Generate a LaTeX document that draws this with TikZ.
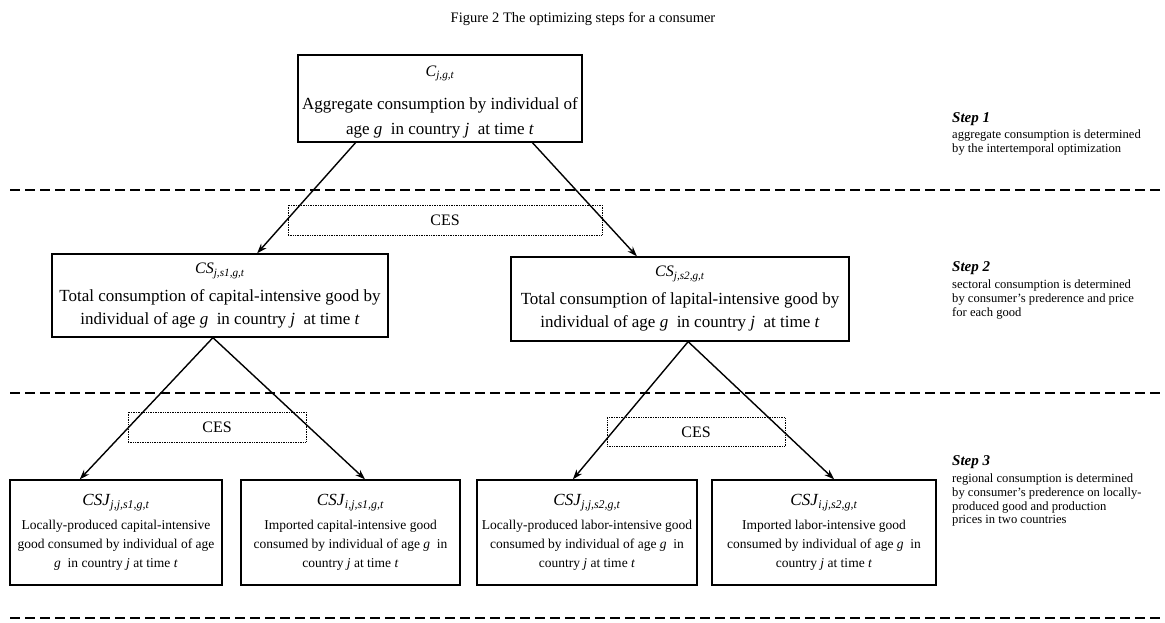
\documentclass[tikz,border=0pt]{standalone}
\usepackage{fontspec}
\setmainfont{Liberation Serif}
\usetikzlibrary{arrows.meta,calc}
\begin{document}
\begin{tikzpicture}[x=1pt,y=-1pt,
 box/.style={draw,line width=1.3pt,inner sep=0pt,align=center},
 toptxt/.style={font=\fontsize{17}{25}\selectfont},
 bigtxt/.style={font=\fontsize{17}{23}\selectfont},
 smalltxt/.style={font=\fontsize{13.5}{19}\selectfont},
 ces/.style={draw,densely dotted,line width=0.7pt,inner sep=0pt,font=\fontsize{16}{18}\selectfont},
 arr/.style={line width=1.4pt,-{Stealth[length=10pt,width=7pt]}},
 sep/.style={line width=1.3pt,dash pattern=on 10pt off 5pt},
 stepT/.style={anchor=west,inner sep=0pt,font=\fontsize{15}{17}\selectfont\bfseries\itshape},
 stepD/.style={anchor=north west,align=left,inner sep=0pt,font=\fontsize{12.6}{13.6}\selectfont}]
\useasboundingbox (0,0) rectangle (1165,622);

\node[font=\fontsize{14.5}{16}\selectfont] (title) at (583,19) {Figure 2 The optimizing steps for a consumer};

% separators
\draw[sep] (10,190) -- (1165,190);
\draw[sep] (10,393) -- (1165,393);
\draw[sep] (10,618) -- (1165,618);

% step 1
\node[box,toptxt,minimum width=284pt,minimum height=87pt] (top) at (440,98.5)
 {{\fontsize{16}{18}\selectfont\rule{0pt}{17pt}\textit{C}\textsubscript{\textit{j,g,t}}}\\[8pt]Aggregate consumption by individual of\\ age \textit{g}\enspace in country \textit{j}\enspace at time \textit{t}};

% step 2
\node[box,bigtxt,minimum width=336pt,minimum height=83pt] (cs1) at (220,295.5)
 {{\fontsize{16}{18}\selectfont\textit{CS}\textsubscript{\textit{j,s1,g,t}}}\\[5pt]Total consumption of capital-intensive good by\\ individual of age \textit{g}\enspace in country \textit{j}\enspace at time \textit{t}};
\node[box,bigtxt,minimum width=338pt,minimum height=84pt] (cs2) at (680,299)
 {{\fontsize{16}{18}\selectfont\textit{CS}\textsubscript{\textit{j,s2,g,t}}}\\[5pt]Total consumption of lapital-intensive good by\\ individual of age \textit{g}\enspace in country \textit{j}\enspace at time \textit{t}};

\node[ces,minimum width=314pt,minimum height=30pt] (ces1) at (445,220) {CES};

% step 3
\node[ces,minimum width=178pt,minimum height=30pt] (ces2) at (217,427) {CES};
\node[ces,minimum width=178pt,minimum height=29pt] (ces3) at (696,432) {CES};

\node[box,smalltxt,minimum width=212pt,minimum height=105pt] (csj1) at (116,532.5)
 {{\fontsize{17}{19}\selectfont\textit{CSJ}\textsubscript{\textit{j,j,s1,g,t}}}\\[5pt]Locally-produced capital-intensive\\ good consumed by individual of age\\ \textit{g}\enspace in country \textit{j} at time \textit{t}};
\node[box,smalltxt,minimum width=219pt,minimum height=105pt] (csj2) at (350.5,532.5)
 {{\fontsize{17}{19}\selectfont\textit{CSJ}\textsubscript{\textit{i,j,s1,g,t}}}\\[5pt]Imported capital-intensive good\\ consumed by individual of age \textit{g}\enspace in\\ country \textit{j} at time \textit{t}};
\node[box,smalltxt,minimum width=220pt,minimum height=105pt] (csj3) at (587,532.5)
 {{\fontsize{17}{19}\selectfont\textit{CSJ}\textsubscript{\textit{j,j,s2,g,t}}}\\[5pt]Locally-produced labor-intensive good\\ consumed by individual of age \textit{g}\enspace in\\ country \textit{j} at time \textit{t}};
\node[box,smalltxt,minimum width=224pt,minimum height=105pt] (csj4) at (824,532.5)
 {{\fontsize{17}{19}\selectfont\textit{CSJ}\textsubscript{\textit{i,j,s2,g,t}}}\\[5pt]Imported labor-intensive good\\ consumed by individual of age \textit{g}\enspace in\\ country \textit{j} at time \textit{t}};

% arrows
\draw[arr] ($(top.south west)!0.204!(top.south east)$) -- ($(cs1.north west)!0.61!(cs1.north east)$);
\draw[arr] ($(top.south west)!0.824!(top.south east)$) -- ($(cs2.north west)!0.373!(cs2.north east)$);
\draw[arr] ($(cs1.south west)!0.479!(cs1.south east)$) -- ($(csj1.north west)!0.33!(csj1.north east)$);
\draw[arr] ($(cs1.south west)!0.479!(cs1.south east)$) -- ($(csj2.north west)!0.566!(csj2.north east)$);
\draw[arr] ($(cs2.south west)!0.524!(cs2.south east)$) -- ($(csj3.north west)!0.436!(csj3.north east)$);
\draw[arr] ($(cs2.south west)!0.524!(cs2.south east)$) -- ($(csj4.north west)!0.545!(csj4.north east)$);

% step descriptions
\node[stepT] (s1) at (952,119) {Step 1};
\node[stepD] (d1) at (952,130) {aggregate consumption is determined\\ by the intertemporal optimization};
\node[stepT] (s2) at (952,268) {Step 2};
\node[stepD] (d2) at (952,280) {sectoral consumption is determined\\ by consumer's prederence and price\\ for each good};
\node[stepT] (s3) at (952,462) {Step 3};
\node[stepD] (d3) at (952,474) {regional consumption is determined\\ by consumer's prederence on locally-\\ produced good and production\\ prices in two countries};
\end{tikzpicture}
\end{document}
